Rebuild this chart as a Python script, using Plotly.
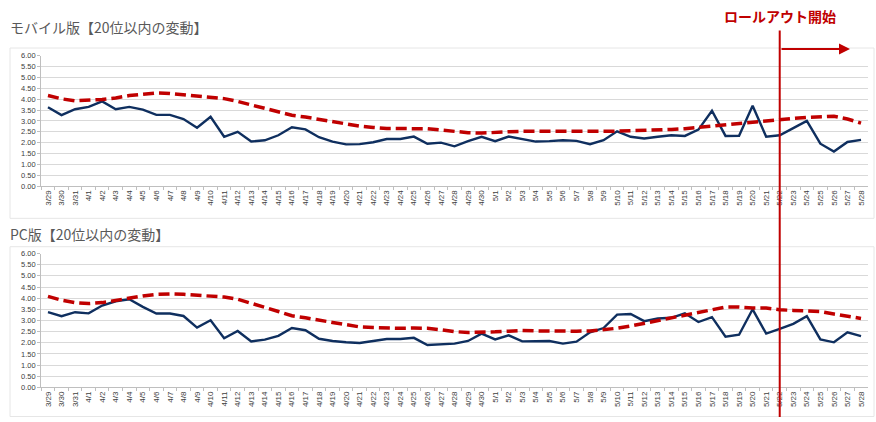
import plotly.graph_objects as go

categories = ["3/29", "3/30", "3/31",
              "4/1", "4/2", "4/3", "4/4", "4/5", "4/6", "4/7", "4/8", "4/9", "4/10",
              "4/11", "4/12", "4/13", "4/14", "4/15", "4/16", "4/17", "4/18", "4/19", "4/20",
              "4/21", "4/22", "4/23", "4/24", "4/25", "4/26", "4/27", "4/28", "4/29", "4/30",
              "5/1", "5/2", "5/3", "5/4", "5/5", "5/6", "5/7", "5/8", "5/9", "5/10",
              "5/11", "5/12", "5/13", "5/14", "5/15", "5/16", "5/17", "5/18", "5/19", "5/20",
              "5/21", "5/22", "5/23", "5/24", "5/25", "5/26", "5/27", "5/28"]

mobile_rank = [3.63, 3.27, 3.54,
               3.65, 3.90, 3.54, 3.65, 3.52, 3.28, 3.28, 3.09, 2.69, 3.19,
               2.27, 2.50, 2.05, 2.11, 2.34, 2.71, 2.61, 2.25, 2.05, 1.92,
               1.93, 2.02, 2.17, 2.17, 2.28, 1.95, 2.00, 1.83, 2.07, 2.27,
               2.07, 2.28, 2.15, 2.05, 2.07, 2.11, 2.08, 1.93, 2.11, 2.52,
               2.27, 2.19, 2.27, 2.34, 2.31, 2.60, 3.47, 2.31, 2.32, 3.70,
               2.27, 2.34, 2.67, 3.00, 1.95, 1.59, 2.03, 2.13]

mobile_trend = [4.17, 4.02, 3.93,
                3.94, 3.99, 4.06, 4.17, 4.23, 4.29, 4.27, 4.21, 4.15, 4.10,
                4.03, 3.90, 3.73, 3.57, 3.40, 3.26, 3.18, 3.07, 3.00, 2.88,
                2.76, 2.70, 2.65, 2.65, 2.65, 2.64, 2.58, 2.50, 2.46, 2.44,
                2.49, 2.50, 2.52, 2.52, 2.52, 2.50, 2.52, 2.52, 2.51, 2.53,
                2.55, 2.56, 2.58, 2.61, 2.64, 2.70, 2.77, 2.85, 2.92, 2.97,
                3.03, 3.09, 3.12, 3.16, 3.21, 3.22, 3.09, 2.90]

pc_rank = [3.37, 3.19, 3.37,
           3.32, 3.67, 3.86, 3.95, 3.61, 3.31, 3.31, 3.20, 2.68, 3.01,
           2.20, 2.53, 2.06, 2.14, 2.31, 2.66, 2.56, 2.18, 2.08, 2.02,
           1.99, 2.08, 2.17, 2.17, 2.22, 1.90, 1.93, 1.96, 2.08, 2.41,
           2.15, 2.33, 2.06, 2.08, 2.08, 1.96, 2.05, 2.47, 2.66, 3.26,
           3.29, 2.97, 3.09, 3.12, 3.32, 2.93, 3.15, 2.27, 2.36, 3.50,
           2.41, 2.62, 2.85, 3.19, 2.15, 2.02, 2.47, 2.30]

pc_trend = [4.08, 3.91, 3.80,
            3.76, 3.80, 3.91, 4.02, 4.10, 4.17, 4.19, 4.17, 4.14, 4.11,
            4.05, 3.95, 3.79, 3.59, 3.40, 3.21, 3.12, 3.00, 2.91, 2.81,
            2.71, 2.68, 2.65, 2.65, 2.66, 2.65, 2.58, 2.50, 2.46, 2.46,
            2.49, 2.52, 2.55, 2.53, 2.52, 2.50, 2.52, 2.53, 2.58, 2.65,
            2.75, 2.87, 2.99, 3.10, 3.23, 3.37, 3.50, 3.60, 3.60, 3.56,
            3.56, 3.48, 3.45, 3.44, 3.40, 3.29, 3.20, 3.09]

y_ticks = [0, 0.5, 1, 1.5, 2, 2.5, 3, 3.5, 4, 4.5, 5, 5.5, 6]
titles = ["モバイル版【20位以内の変動】", "PC版【20位以内の変動】"]
rollout_label = "ロールアウト開始"
rollout_date = "5/22"

W, H = 876, 422
BLUE = "#0f2f5f"
RED = "#c00000"
GRAY_TXT = "#404040"

def py(px):
    return 1 - px / H

def pxx(px):
    return px / W

fig = go.Figure()

fig.add_trace(go.Scatter(x=categories, y=mobile_rank, mode="lines",
                         line=dict(color=BLUE, width=2.4), xaxis="x", yaxis="y"))
fig.add_trace(go.Scatter(x=categories, y=mobile_trend, mode="lines",
                         line=dict(color=RED, width=3.5, dash="11px,5px"), xaxis="x", yaxis="y"))
fig.add_trace(go.Scatter(x=categories, y=pc_rank, mode="lines",
                         line=dict(color=BLUE, width=2.4), xaxis="x2", yaxis="y2"))
fig.add_trace(go.Scatter(x=categories, y=pc_trend, mode="lines",
                         line=dict(color=RED, width=3.5, dash="11px,5px"), xaxis="x2", yaxis="y2"))

xdom = [pxx(41.2), pxx(867.8)]
xtickfont = dict(family="Liberation Sans, Arial, sans-serif", size=8, color=GRAY_TXT)
ytickfont = dict(family="Liberation Sans, Arial, sans-serif", size=7.5, color=GRAY_TXT)

xcommon = dict(type="category", domain=xdom, range=[-0.5, len(categories) - 0.5],
               tickangle=-90, tickfont=xtickfont, showgrid=False, showline=True,
               linecolor="#bfbfbf", linewidth=1, ticks="outside", tickson="boundaries",
               ticklen=3, tickcolor="#bfbfbf", fixedrange=True)
ycommon = dict(range=[0, 6], tickvals=y_ticks, tickformat=".2f", tickfont=ytickfont,
               showgrid=True, gridcolor="#d9d9d9", gridwidth=1, showline=True,
               linecolor="#bfbfbf", linewidth=1, ticks="outside", ticklen=3,
               tickcolor="#bfbfbf", zeroline=False, fixedrange=True)

fig.update_layout(
    width=W, height=H,
    margin=dict(l=0, r=0, t=0, b=0),
    paper_bgcolor="white", plot_bgcolor="white",
    showlegend=False,
    xaxis=dict(anchor="y", **xcommon),
    yaxis=dict(anchor="x", domain=[py(186), py(53)], **ycommon),
    xaxis2=dict(anchor="y2", **xcommon),
    yaxis2=dict(anchor="x2", domain=[py(391.7), py(255)], **ycommon),
)

# chart area borders
fig.add_shape(type="rect", xref="paper", yref="paper",
              x0=pxx(10), x1=pxx(874), y0=py(219), y1=py(45),
              line=dict(color="#e6e6e6", width=1), layer="below")
fig.add_shape(type="rect", xref="paper", yref="paper",
              x0=pxx(10), x1=pxx(874), y0=py(421.5), y1=py(248),
              line=dict(color="#e6e6e6", width=1), layer="below")

# titles
title_font = dict(family="Noto Sans CJK JP", size=14, color="#595959")
fig.add_annotation(text=titles[0], xref="paper", yref="paper", x=pxx(8), y=py(24),
                   xanchor="left", yanchor="middle", showarrow=False, font=title_font)
fig.add_annotation(text=titles[1], xref="paper", yref="paper", x=pxx(8), y=py(235),
                   xanchor="left", yanchor="middle", showarrow=False, font=title_font)

# rollout marker
ri = categories.index(rollout_date)
fig.add_shape(type="line", xref="x", yref="paper", x0=ri, x1=ri, y0=0, y1=py(27),
              line=dict(color=RED, width=2))
fig.add_annotation(text="", xref="paper", yref="paper", x=pxx(850), y=py(46),
                   ax=-70, ay=0, showarrow=True, arrowhead=2, arrowsize=1.1,
                   arrowwidth=2, arrowcolor=RED, standoff=0, startstandoff=0)
fig.add_annotation(text="<b>" + rollout_label + "</b>", xref="x", yref="paper",
                   x=ri, y=py(12), xanchor="center", yanchor="middle", showarrow=False,
                   font=dict(family="Noto Sans CJK JP", size=14, color=RED))

fig.write_html("out.html")
